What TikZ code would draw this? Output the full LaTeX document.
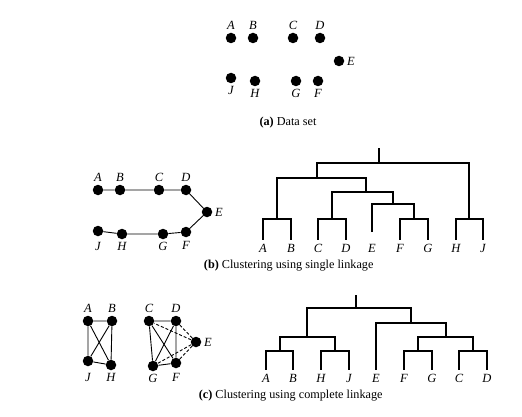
\documentclass[tikz,border=0pt]{standalone}
\usepackage{fontspec}
\setmainfont{Liberation Serif}
\usetikzlibrary{positioning}

\begin{document}
\begin{tikzpicture}[x=1pt,y=-1pt]
            \tikzstyle{dot} = [circle,fill=black,inner sep=0pt,minimum size=10.5pt]
            \tikzstyle{lbl} = [font=\fontsize{12.5}{14}\selectfont\itshape,inner sep=2.5pt]
            \tikzstyle{leaf} = [lbl,inner sep=4pt,text height=8pt,text depth=0pt]
            \tikzstyle{link} = [line width=0.9pt]
            \tikzstyle{far} = [link,dash pattern=on 3pt off 2pt]
            \tikzstyle{tree} = [line width=1.3pt]
            \tikzstyle{caption} = [font=\fontsize{12.2}{14}\selectfont]

            \useasboundingbox (0,0) rectangle (522,417);

            % (a) data set
            \node[dot,label={[lbl]above:A}] (aA) at (231,38) {};
            \node[dot,label={[lbl]above:B}] (aB) at (253,38) {};
            \node[dot,label={[lbl]above:C}] (aC) at (293,38) {};
            \node[dot,label={[lbl]above:D}] (aD) at (320,38) {};
            \node[dot,label={[lbl]right:E}] (aE) at (339,61) {};
            \node[dot,label={[lbl]below:J}] (aJ) at (231,78) {};
            \node[dot,label={[lbl]below:H}] (aH) at (255,81) {};
            \node[dot,label={[lbl]below:G}] (aG) at (296,81) {};
            \node[dot,label={[lbl]below:F}] (aF) at (318,81) {};
            \node[caption] (capA) at (288,123) {\textbf{(a)} Data set};

            % (b) single linkage
            \node[dot,label={[lbl]above:A}] (bA) at (98,190) {};
            \node[dot,label={[lbl]above:B}] (bB) at (120,190) {};
            \node[dot,label={[lbl]above:C}] (bC) at (159,190) {};
            \node[dot,label={[lbl]above:D}] (bD) at (186,190) {};
            \node[dot,label={[lbl]right:E}] (bE) at (207,212) {};
            \node[dot,label={[lbl,label distance=3pt]below:J}] (bJ) at (98,231) {};
            \node[dot,label={[lbl]below:H}] (bH) at (122,234) {};
            \node[dot,label={[lbl]below:G}] (bG) at (163,234) {};
            \node[dot,label={[lbl,label distance=1.5pt]below:F}] (bF) at (186,232) {};
            \draw[link] (bA) -- (bB) -- (bC) -- (bD) -- (bE) -- (bF) -- (bG) -- (bH) -- (bJ);

            \node[leaf] (lbA) at (263,248) {A};
            \node[leaf] (lbB) at (291,248) {B};
            \node[leaf] (lbC) at (318,248) {C};
            \node[leaf] (lbD) at (346,248) {D};
            \node[leaf] (lbE) at (372,248) {E};
            \node[leaf] (lbF) at (400,248) {F};
            \node[leaf] (lbG) at (428,248) {G};
            \node[leaf] (lbH) at (456,248) {H};
            \node[leaf] (lbJ) at (483,248) {J};
            \draw[tree] (lbA.north) |- (lbB.north |- 0,219) -- (lbB.north);
            \draw[tree] (lbC.north) |- (lbD.north |- 0,219) -- (lbD.north);
            \draw[tree] (lbF.north) |- (lbG.north |- 0,219) -- (lbG.north);
            \draw[tree] (lbH.north) |- (lbJ.north |- 0,219) -- (lbJ.north);
            \draw[tree] (lbE.north |- 0,232) |- (414,204) -- (414,219);
            \draw[tree] (332,219) |- (393,192) -- (393,204);
            \draw[tree] (277,219) |- (366,178) -- (366,192);
            \draw[tree] (317,178) |- (469,163) -- (469,219);
            \draw[tree] (379,163) -- (379,148);
            \node[caption] (capB) at (288.7,266) {\textbf{(b)} Clustering using single linkage};

            % (c) complete linkage
            \node[dot,label={[lbl]above:A}] (cA) at (88,321) {};
            \node[dot,label={[lbl]above:B}] (cB) at (112,321) {};
            \node[dot,label={[lbl]above:C}] (cC) at (149,321) {};
            \node[dot,label={[lbl]above:D}] (cD) at (176,321) {};
            \node[dot,label={[lbl]right:E}] (cE) at (196,342) {};
            \node[dot,label={[lbl,label distance=4pt]below:J}] (cJ) at (88,361) {};
            \node[dot,label={[lbl]below:H}] (cH) at (111,365) {};
            \node[dot,label={[lbl]below:G}] (cG) at (153,366) {};
            \node[dot,label={[lbl,label distance=2pt]below:F}] (cF) at (176,363) {};
            \draw[link] (cA) -- (cB) -- (cH) -- (cJ) -- (cA) -- (cH);
            \draw[link] (cB) -- (cJ);
            \draw[link] (cC) -- (cD) -- (cF) -- (cG) -- (cC) -- (cF);
            \draw[link] (cD) -- (cG);
            \draw[far] (cE) -- (cC);
            \draw[far] (cE) -- (cD);
            \draw[far] (cE) -- (cF);
            \draw[far] (cE) -- (cG);

            \node[leaf] (lcA) at (266,378) {A};
            \node[leaf] (lcB) at (293,378) {B};
            \node[leaf] (lcH) at (321,378) {H};
            \node[leaf] (lcJ) at (349,378) {J};
            \node[leaf] (lcE) at (376,378) {E};
            \node[leaf] (lcF) at (404,378) {F};
            \node[leaf] (lcG) at (432,378) {G};
            \node[leaf] (lcC) at (459,378) {C};
            \node[leaf] (lcD) at (487,378) {D};
            \draw[tree] (lcA.north) |- (lcB.north |- 0,351) -- (lcB.north);
            \draw[tree] (lcH.north) |- (lcJ.north |- 0,351) -- (lcJ.north);
            \draw[tree] (lcF.north) |- (lcG.north |- 0,351) -- (lcG.north);
            \draw[tree] (lcC.north) |- (lcD.north |- 0,351) -- (lcD.north);
            \draw[tree] (280,351) |- (335,337) -- (335,351);
            \draw[tree] (418,351) |- (473,337) -- (473,351);
            \draw[tree] (lcE.north) |- (446,323) -- (446,337);
            \draw[tree] (307,337) |- (411,308) -- (411,323);
            \draw[tree] (356,308) -- (356,295);
            \node[caption] (capC) at (290.7,396) {\textbf{(c)} Clustering using complete linkage};
        \end{tikzpicture}
\end{document}
